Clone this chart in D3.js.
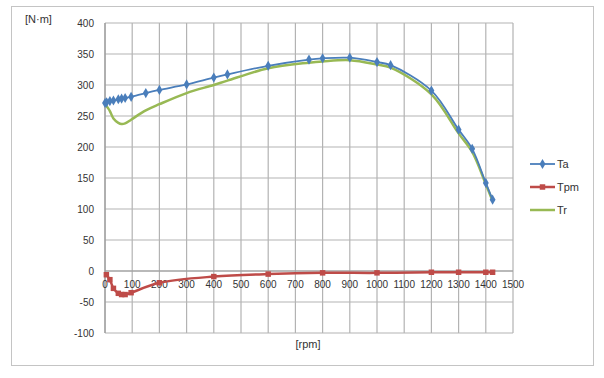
<!DOCTYPE html>
<html>
<head>
<meta charset="utf-8">
<script src="https://cdn.jsdelivr.net/npm/d3@7"></script>
<style>
  html,body{margin:0;padding:0;background:#fff;}
  svg text{font-family:"Liberation Sans",Arial,sans-serif;fill:#333;}
</style>
</head>
<body>
<div id="chart"></div>
<script>
/* Torque vs speed chart: Ta (diamonds), Tpm (squares), Tr (plain line). */
var taRpm=[0,6,18,31,49,61,74,96,150,200,300,400,450,600,750,800,900,1000,1050,1200,1300,1350,1400,1425];
var taVal=[271,272,274,275,277,278,279,281,287,292,301,312,317,331,341,343,344,337,332,291,228,197,142,115];
var tpmRpm=[5,18,31,49,61,74,96,200,400,600,800,1000,1200,1300,1400,1425];
var tpmVal=[-6,-14,-28,-36,-38,-38,-35,-19,-9,-5,-3,-3,-2,-2,-2,-2];
var trRpm=[0,6,18,31,49,61,74,96,150,200,300,400,450,600,750,800,900,1000,1050,1200,1300,1350,1400,1425];
var trVal=[271,266,258,246,239,237,238,244,259,269,287,300,307,327,336,338,340,333,328,285,222,192,140,113];
var xTicks=[0,100,200,300,400,500,600,700,800,900,1000,1100,1200,1300,1400,1500];
var yTicks=[-100,-50,0,50,100,150,200,250,300,350,400];
var seriesNames=["Ta","Tpm","Tr"];
var seriesColors=["#4a7ebb","#be4b48","#98b954"];

var W=604,H=378;
var svg=d3.select("#chart").append("svg").attr("width",W).attr("height",H);
svg.append("rect").attr("x",11.5).attr("y",6.5).attr("width",582).attr("height",359)
   .attr("fill","#fff").attr("stroke","#c4c4c4").attr("stroke-width",1);

var x=d3.scaleLinear().domain([0,1500]).range([105,513]);
var y=d3.scaleLinear().domain([-100,400]).range([333,23]);

// grid
var grid=svg.append("g");
grid.selectAll("line.v").data(xTicks).enter().append("line")
    .attr("x1",function(d){return x(d);}).attr("x2",function(d){return x(d);})
    .attr("y1",y(400)).attr("y2",y(-100)).attr("stroke","#b3b3b3").attr("stroke-width",1.2);
grid.selectAll("line.h").data(yTicks).enter().append("line")
    .attr("x1",x(0)).attr("x2",x(1500))
    .attr("y1",function(d){return y(d);}).attr("y2",function(d){return y(d);})
    .attr("stroke","#b3b3b3").attr("stroke-width",1.2);
svg.append("line").attr("x1",x(0)).attr("x2",x(0)).attr("y1",y(400)).attr("y2",y(-100)).attr("stroke","#999").attr("stroke-width",1.2);
svg.append("line").attr("x1",x(0)).attr("x2",x(1500)).attr("y1",y(0)).attr("y2",y(0)).attr("stroke","#999").attr("stroke-width",1.2);

// tick labels
svg.append("g").selectAll("text").data(yTicks).enter().append("text")
    .attr("x",94).attr("y",function(d){return y(d)+3.5;}).attr("text-anchor","end")
    .attr("font-size",10).text(function(d){return d;});
svg.append("g").selectAll("text").data(xTicks).enter().append("text")
    .attr("x",function(d){return x(d);}).attr("y",y(0)+17).attr("text-anchor","middle")
    .attr("font-size",10).text(function(d){return d;});

svg.append("text").attr("x",25).attr("y",23).attr("font-size",11).text("[N·m]");
svg.append("text").attr("x",308).attr("y",348).attr("text-anchor","middle").attr("font-size",11).text("[rpm]");

function pts(xs,ys){return xs.map(function(v,i){return [v,ys[i]];});}
var line=d3.line().x(function(d){return x(d[0]);}).y(function(d){return y(d[1]);}).curve(d3.curveCatmullRom.alpha(0.5));

var trData=pts(trRpm,trVal), taData=pts(taRpm,taVal), tpmData=pts(tpmRpm,tpmVal);

svg.append("path").datum(trData).attr("d",line).attr("fill","none").attr("stroke",seriesColors[2]).attr("stroke-width",2.5);
svg.append("path").datum(taData).attr("d",line).attr("fill","none").attr("stroke",seriesColors[0]).attr("stroke-width",1.8);
svg.append("path").datum(tpmData).attr("d",line).attr("fill","none").attr("stroke",seriesColors[1]).attr("stroke-width",2.5);

var diamond=d3.symbol().type(d3.symbolDiamond).size(30);
var square=d3.symbol().type(d3.symbolSquare).size(30);
svg.append("g").selectAll("path").data(taData).enter().append("path")
    .attr("d",diamond).attr("transform",function(d){return "translate("+x(d[0])+","+y(d[1])+")";})
    .attr("fill",seriesColors[0]);
svg.append("g").selectAll("path").data(tpmData).enter().append("path")
    .attr("d",square).attr("transform",function(d){return "translate("+x(d[0])+","+y(d[1])+")";})
    .attr("fill",seriesColors[1]);

// legend
var lg=svg.append("g").attr("transform","translate(530,164)");
seriesNames.forEach(function(n,i){
    var g=lg.append("g").attr("transform","translate(0,"+(i*23)+")");
    g.append("line").attr("x1",0).attr("x2",25).attr("stroke",seriesColors[i]).attr("stroke-width",i===0?1.8:2.5);
    if(i===0) g.append("path").attr("d",diamond).attr("transform","translate(12.5,0)").attr("fill",seriesColors[i]);
    if(i===1) g.append("path").attr("d",square).attr("transform","translate(12.5,0)").attr("fill",seriesColors[i]);
    g.append("text").attr("x",27).attr("y",4).attr("font-size",11).text(n);
});
</script>
</body>
</html>
